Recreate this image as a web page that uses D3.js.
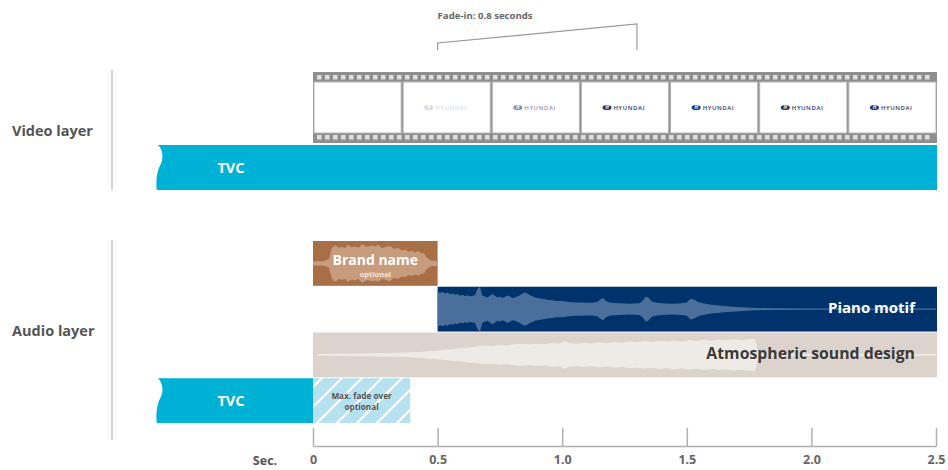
<!DOCTYPE html>
<html><head><meta charset="utf-8">
<script src="https://cdn.jsdelivr.net/npm/d3@7"></script>
<style>
html,body{margin:0;padding:0;background:#fff;}
svg{display:block;font-family:"Open Sans","Noto Sans",sans-serif;}
</style></head>
<body><svg id="c" width="948" height="470"></svg>
<script>
// ---------- data ----------
const tickValues = [0, 0.5, 1, 1.5, 2, 2.5];
const tickLabels = ["0", "0.5", "1.0", "1.5", "2.0", "2.5"];
const layerLabels = ["Video layer", "Audio layer"];
const videoTvc = [-0.627, 2.5];
const filmSpan = [0, 2.5];
const frameLogoLevels = [0, 0.2, 0.55, 1, 1, 1, 1];
const fadeIn = [0.5, 1.3];
const fadeInLabel = "Fade-in: 0.8 seconds";
const audioRows = ["brand", "piano", "atmos", "tvc"];
const audioNames = ["Brand name", "Piano motif", "Atmospheric sound design", "TVC"];
const audioStart = [0, 0.5, 0, -0.627];
const audioEnd = [0.5, 2.5, 2.5, 0];
const fadeOver = [0, 0.39];
// waveform envelopes: time (s) and relative half-amplitude
const brandT = [0, 0.02, 0.036, 0.05, 0.064, 0.076, 0.085, 0.092, 0.104, 0.116, 0.128, 0.14, 0.155, 0.169, 0.183, 0.197, 0.21, 0.221, 0.235, 0.249, 0.263, 0.277, 0.293, 0.309, 0.325, 0.341, 0.355, 0.369, 0.383, 0.397, 0.41, 0.421, 0.433, 0.445, 0.457, 0.47, 0.485, 0.5];
const brandA = [0.08, 0.1, 0.09, 0.13, 0.18, 0.7, 0.78, 0.8, 0.7, 0.74, 0.68, 0.82, 0.72, 0.76, 0.7, 0.86, 0.78, 0.74, 0.8, 0.76, 0.82, 0.68, 0.74, 0.78, 0.64, 0.7, 0.58, 0.62, 0.52, 0.56, 0.48, 0.55, 0.47, 0.45, 0.25, 0.14, 0.12, 0.1];
const pianoT = [0.5, 0.51, 0.52, 0.53, 0.54, 0.55, 0.56, 0.57, 0.58, 0.59, 0.6, 0.61, 0.62, 0.63, 0.64, 0.65, 0.66, 0.67, 0.675, 0.68, 0.69, 0.7, 0.71, 0.72, 0.73, 0.74, 0.75, 0.76, 0.77, 0.78, 0.79, 0.8, 0.81, 0.82, 0.83, 0.84, 0.85, 0.86, 0.87, 0.88, 0.89, 0.9, 0.92, 0.94, 0.96, 0.98, 1.0, 1.02, 1.04, 1.06, 1.08, 1.1, 1.12, 1.14, 1.155, 1.165, 1.175, 1.19, 1.21, 1.23, 1.25, 1.27, 1.29, 1.31, 1.325, 1.335, 1.345, 1.36, 1.38, 1.4, 1.42, 1.44, 1.46, 1.48, 1.5, 1.515, 1.53, 1.55, 1.57, 1.6, 1.63, 1.66, 1.7, 1.74, 1.78, 1.85, 2.0, 2.5];
const pianoA = [0.78, 0.72, 0.76, 0.7, 0.74, 0.66, 0.7, 0.64, 0.68, 0.6, 0.64, 0.58, 0.62, 0.56, 0.6, 0.62, 0.9, 1.0, 0.8, 0.6, 0.56, 0.52, 0.6, 0.68, 0.6, 0.52, 0.56, 0.5, 0.54, 0.62, 0.56, 0.5, 0.52, 0.56, 0.62, 0.7, 0.74, 0.7, 0.62, 0.58, 0.52, 0.5, 0.46, 0.42, 0.4, 0.36, 0.36, 0.33, 0.31, 0.3, 0.3, 0.28, 0.28, 0.32, 0.44, 0.5, 0.36, 0.3, 0.27, 0.26, 0.25, 0.24, 0.25, 0.26, 0.4, 0.55, 0.52, 0.34, 0.28, 0.26, 0.25, 0.24, 0.25, 0.26, 0.3, 0.46, 0.42, 0.3, 0.25, 0.2, 0.16, 0.13, 0.1, 0.07, 0.05, 0.035, 0.03, 0.025];
const atmosT = [0.016, 0.1, 0.2, 0.3, 0.38, 0.44, 0.5, 0.54, 0.58, 0.62, 0.66, 0.69, 0.72, 0.75, 0.78, 0.81, 0.84, 0.87, 0.9, 0.93, 0.96, 0.99, 1.01, 1.03, 1.06, 1.09, 1.12, 1.15, 1.18, 1.21, 1.24, 1.27, 1.3, 1.33, 1.36, 1.39, 1.42, 1.45, 1.48, 1.51, 1.54, 1.57, 1.6, 1.63, 1.66, 1.69, 1.72, 1.75, 1.775, 1.786, 2.5];
const atmosA = [0.04, 0.05, 0.06, 0.08, 0.1, 0.14, 0.2, 0.24, 0.28, 0.33, 0.38, 0.42, 0.4, 0.44, 0.42, 0.47, 0.5, 0.46, 0.5, 0.48, 0.53, 0.5, 0.62, 0.52, 0.5, 0.54, 0.5, 0.56, 0.52, 0.58, 0.54, 0.6, 0.56, 0.62, 0.58, 0.63, 0.6, 0.64, 0.6, 0.66, 0.62, 0.67, 0.63, 0.68, 0.65, 0.7, 0.66, 0.7, 0.72, 0.05, 0.04];

// ---------- setup ----------
const svg = d3.select("#c");
const x = d3.scaleLinear().domain([0, 2.5]).range([313, 936]);
const yAudio = d3.scaleBand().domain(audioRows).range([241, 423]).paddingInner(0.02);
const yVideo = { strip: [72, 143], tvc: [145, 190] };

const C = {
  cyan: "#00b1d6", brown: "#a86f47", brownWave: "#c79c7c",
  navy: "#00336b", navyWave: "#4a6f9b", atmos: "#dcd3cc", atmosWave: "#eeebe6",
  fade: "#b5e1f0", grey: "#555", line: "#c4c4c4"
};

const defs = svg.append("defs");
const pat = defs.append("pattern").attr("id", "hatch").attr("patternUnits", "userSpaceOnUse")
  .attr("width", 20).attr("height", 20);
pat.append("rect").attr("width", 20).attr("height", 20).attr("fill", C.fade);
pat.append("path").attr("d", "M-5,5 L5,-5 M0,20 L20,0 M15,25 L25,15").attr("stroke", "#fff").attr("stroke-width", 2.2);

function tornPath(x0, x1, y0, y1) {
  const h = y1 - y0;
  return `M${x0 + 1},${y0} C${x0 + 6},${y0 + h * 0.08} ${x0 + 7},${y0 + h * 0.3} ${x0 + 4},${y0 + h * 0.42}` +
    ` C${x0 + 0},${y0 + h * 0.58} ${x0 - 1},${y0 + h * 0.78} ${x0},${y1} L${x1},${y1} L${x1},${y0} Z`;
}

// ---------- layer labels & dividers ----------
svg.append("text").attr("x", 12).attr("y", 136).text(layerLabels[0])
  .attr("font-size", 14.5).attr("font-weight", 700).attr("fill", C.grey);
svg.append("text").attr("x", 12).attr("y", 336).text(layerLabels[1])
  .attr("font-size", 14.5).attr("font-weight", 700).attr("fill", C.grey);
svg.append("line").attr("x1", 112).attr("x2", 112).attr("y1", 70).attr("y2", 190).attr("stroke", C.line).attr("stroke-width", 1.5);
svg.append("line").attr("x1", 112).attr("x2", 112).attr("y1", 240).attr("y2", 440).attr("stroke", C.line).attr("stroke-width", 1.5);

// ---------- fade-in bracket ----------
svg.append("text").attr("x", x(fadeIn[0])).attr("y", 19).text(fadeInLabel)
  .attr("font-size", 9.6).attr("font-weight", 700).attr("fill", "#666");
svg.append("path").attr("fill", "none").attr("stroke", "#999").attr("stroke-width", 1.2)
  .attr("d", `M${x(fadeIn[0])},50 L${x(fadeIn[0])},43 L${x(fadeIn[1])},24 L${x(fadeIn[1])},50`);

// ---------- film strip ----------
const sx0 = x(filmSpan[0]), sx1 = x(filmSpan[1]) + 1;
const [fy0, fy1] = yVideo.strip;
svg.append("rect").attr("x", sx0).attr("y", fy0).attr("width", sx1 - sx0).attr("height", fy1 - fy0)
  .attr("fill", "#8e8e8e");
const holes = d3.range(sx0 + 4, sx1 - 4, 8);
[fy0 + 3, fy1 - 8].forEach(hy => {
  svg.append("g").selectAll("rect").data(holes).join("rect")
    .attr("x", d => d).attr("y", hy).attr("width", 4.5).attr("height", 4.5).attr("fill", "#dedede");
});
const fw = (sx1 - sx0) / frameLogoLevels.length;
const frames = svg.append("g").selectAll("g").data(frameLogoLevels).join("g")
  .attr("transform", (d, i) => `translate(${sx0 + i * fw},0)`);
frames.append("rect").attr("x", 1).attr("y", fy0 + 10).attr("width", fw - 2).attr("height", fy1 - fy0 - 20)
  .attr("fill", "#fff").attr("stroke", "#b5b5b5").attr("stroke-width", 1);
const logos = frames.filter(d => d > 0).append("g")
  .attr("transform", `translate(${fw / 2},${(fy0 + fy1) / 2})`).attr("opacity", d => d);
logos.append("ellipse").attr("cx", -18).attr("cy", 0).attr("rx", 4.5).attr("ry", 2.6).attr("fill", "#1f3a78");
logos.append("text").attr("x", -18).attr("y", 1.8).attr("text-anchor", "middle").attr("font-size", 5)
  .attr("font-style", "italic").attr("font-weight", 700).attr("fill", "#fff").text("H");
logos.append("text").attr("x", -11.5).attr("y", 2.3).attr("font-size", 6).attr("font-weight", 600)
  .attr("letter-spacing", 0.6).attr("fill", "#1f3a78").text("HYUNDAI");

// ---------- video TVC ----------
svg.append("path").attr("d", tornPath(x(videoTvc[0]), x(videoTvc[1]) + 1, yVideo.tvc[0], yVideo.tvc[1])).attr("fill", C.cyan);
svg.append("text").attr("x", 231).attr("y", (yVideo.tvc[0] + yVideo.tvc[1]) / 2 + 5).attr("text-anchor", "middle")
  .attr("font-size", 14.5).attr("font-weight", 700).attr("fill", "#fff").text("TVC");

// ---------- audio rows ----------
const bh = yAudio.bandwidth();
function waveArea(row, T, A, color) {
  const cy = yAudio(row) + bh / 2, half = bh / 2;
  const pts = T.map((t, i) => [t, A[i]]);
  svg.append("path").datum(pts).attr("fill", color)
    .attr("d", d3.area().x(d => x(d[0])).y0(d => cy - d[1] * half).y1(d => cy + d[1] * half)(pts));
}
// brand
svg.append("rect").attr("x", x(audioStart[0])).attr("y", yAudio("brand")).attr("width", x(audioEnd[0]) - x(audioStart[0])).attr("height", bh).attr("fill", C.brown);
waveArea("brand", brandT, brandA, C.brownWave);
// piano
svg.append("rect").attr("x", x(audioStart[1])).attr("y", yAudio("piano")).attr("width", x(audioEnd[1]) - x(audioStart[1]) + 1).attr("height", bh).attr("fill", C.navy);
waveArea("piano", pianoT, pianoA, C.navyWave);
// atmos
svg.append("rect").attr("x", x(audioStart[2])).attr("y", yAudio("atmos")).attr("width", x(audioEnd[2]) - x(audioStart[2]) + 1).attr("height", bh).attr("fill", C.atmos);
waveArea("atmos", atmosT, atmosA, C.atmosWave);
// tvc audio
svg.append("path").attr("d", tornPath(x(audioStart[3]), x(audioEnd[3]), yAudio("tvc"), yAudio("tvc") + bh)).attr("fill", C.cyan);
// fade over
svg.append("rect").attr("x", x(fadeOver[0])).attr("y", yAudio("tvc")).attr("width", x(fadeOver[1]) - x(fadeOver[0])).attr("height", bh).attr("fill", "url(#hatch)");

// audio texts
const bc = yAudio("brand") + bh / 2;
svg.append("text").attr("x", x(0.25)).attr("y", bc + 2).attr("text-anchor", "middle").attr("font-size", 14)
  .attr("font-weight", 700).attr("fill", "#fff").text(audioNames[0]);
svg.append("text").attr("x", x(0.25)).attr("y", bc + 14).attr("text-anchor", "middle").attr("font-size", 7.5)
  .attr("font-weight", 700).attr("fill", "#f3e6dc").text("optional");
svg.append("text").attr("x", 915).attr("y", yAudio("piano") + bh / 2 + 4).attr("text-anchor", "end").attr("font-size", 15)
  .attr("font-weight", 700).attr("fill", "#fff").text(audioNames[1]);
svg.append("text").attr("x", 915).attr("y", yAudio("atmos") + bh / 2 + 4.5).attr("text-anchor", "end").attr("font-size", 15.8)
  .attr("font-weight", 700).attr("fill", "#3a3a3a").text(audioNames[2]);
svg.append("text").attr("x", 231).attr("y", yAudio("tvc") + bh / 2 + 5).attr("text-anchor", "middle")
  .attr("font-size", 14.5).attr("font-weight", 700).attr("fill", "#fff").text(audioNames[3]);
const fc = (x(fadeOver[0]) + x(fadeOver[1])) / 2;
svg.append("text").attr("x", fc).attr("y", yAudio("tvc") + bh / 2 - 2).attr("text-anchor", "middle").attr("font-size", 8.2)
  .attr("font-weight", 700).attr("fill", "#555").text("Max. fade over");
svg.append("text").attr("x", fc).attr("y", yAudio("tvc") + bh / 2 + 9).attr("text-anchor", "middle").attr("font-size", 8.2)
  .attr("font-weight", 700).attr("fill", "#555").text("optional");

// ---------- axis ----------
const axis = d3.axisBottom(x).tickValues(tickValues).tickFormat((d, i) => tickLabels[i])
  .tickSizeInner(-18).tickSizeOuter(0).tickPadding(9);
const ag = svg.append("g").attr("transform", "translate(0,446)").call(axis);
ag.select(".domain").attr("stroke", "#b0b0b0").attr("stroke-width", 1.5);
ag.selectAll(".tick line").attr("stroke", "#b0b0b0").attr("stroke-width", 1.5);
ag.selectAll(".tick text").attr("font-size", 12.5).attr("font-weight", 700).attr("fill", "#666")
  .attr("font-family", "'Open Sans',sans-serif");
svg.append("text").attr("x", 265).attr("y", 465).attr("text-anchor", "middle").attr("font-size", 12.5)
  .attr("font-weight", 700).attr("fill", "#555").text("Sec.");
</script></body></html>
